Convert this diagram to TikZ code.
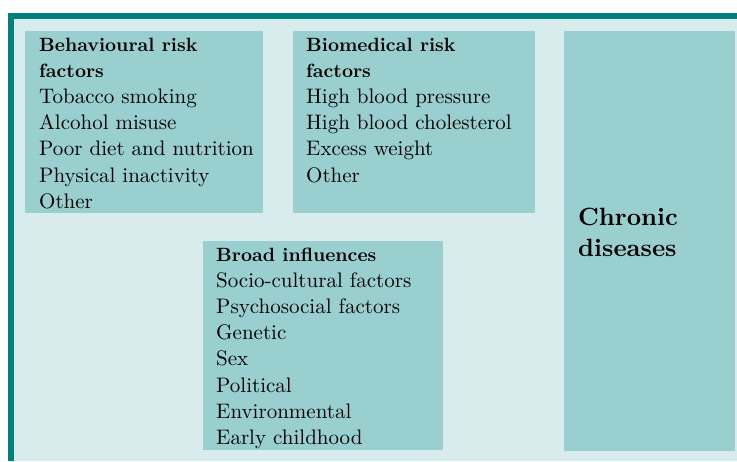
\documentclass[tikz,border=0pt]{standalone}
\usepackage{fontspec}
\setmainfont{lmroman10-regular.otf}[BoldFont=lmroman10-bold.otf]
\definecolor{frameteal}{HTML}{00817E}
\definecolor{bgfill}{HTML}{D8ECEE}
\definecolor{boxfill}{HTML}{9ACFCF}
\begin{document}
\begin{tikzpicture}[x=1pt,y=-1pt,
  boxstyle/.style={fill=boxfill, draw=none, inner sep=0pt, anchor=north west},
  bodytext/.style={anchor=base west, inner sep=0pt, text=black, font=\fontsize{21}{24}\selectfont},
  headtext/.style={anchor=base west, inner sep=0pt, text=black, font=\fontsize{19.2}{24}\selectfont\bfseries},
  bigtext/.style={anchor=base west, inner sep=0pt, text=black, font=\fontsize{25}{30}\selectfont\bfseries}]
\useasboundingbox (0,0) rectangle (737,461);
% background and frame
\fill[bgfill] (8,12.5) rectangle (737,461);
\fill[frameteal] (8,12.5) rectangle (737,18.5);
\fill[frameteal] (8,12.5) rectangle (14,461);
% boxes
\node[boxstyle, minimum width=238pt, minimum height=182pt] (behbox) at (25,31) {};
\node[boxstyle, minimum width=242pt, minimum height=182pt] (biobox) at (293,31) {};
\node[boxstyle, minimum width=240pt, minimum height=209pt] (broadbox) at (203,241) {};
\node[boxstyle, minimum width=171pt, minimum height=420pt] (chronbox) at (564,31) {};
% behavioural
\node[headtext] (beh1) at (39,51) {Behavioural risk};
\node[headtext] (beh2) at (39,77.2) {factors};
\foreach \t [count=\i from 0] in {Tobacco smoking, Alcohol misuse, Poor diet and nutrition, Physical inactivity, Other}
  \node[bodytext] (behl\i) at (39,103.4+26.2*\i) {\t};
% biomedical
\node[headtext] (bio1) at (306,51) {Biomedical risk};
\node[headtext] (bio2) at (306,77.2) {factors};
\foreach \t [count=\i from 0] in {High blood pressure, High blood cholesterol, Excess weight, Other}
  \node[bodytext] (biol\i) at (306,103.4+26.2*\i) {\t};
% broad influences
\node[headtext] (br1) at (216,261) {Broad influences};
\foreach \t [count=\i from 0] in {Socio-cultural factors, Psychosocial factors, Genetic, Sex, Political, Environmental, Early childhood}
  \node[bodytext] (brl\i) at (216,287.2+26.2*\i) {\t};
% chronic diseases
\node[bigtext] (ch1) at (578,225) {Chronic};
\node[bigtext] (ch2) at (578,256) {diseases};
\end{tikzpicture}
\end{document}
